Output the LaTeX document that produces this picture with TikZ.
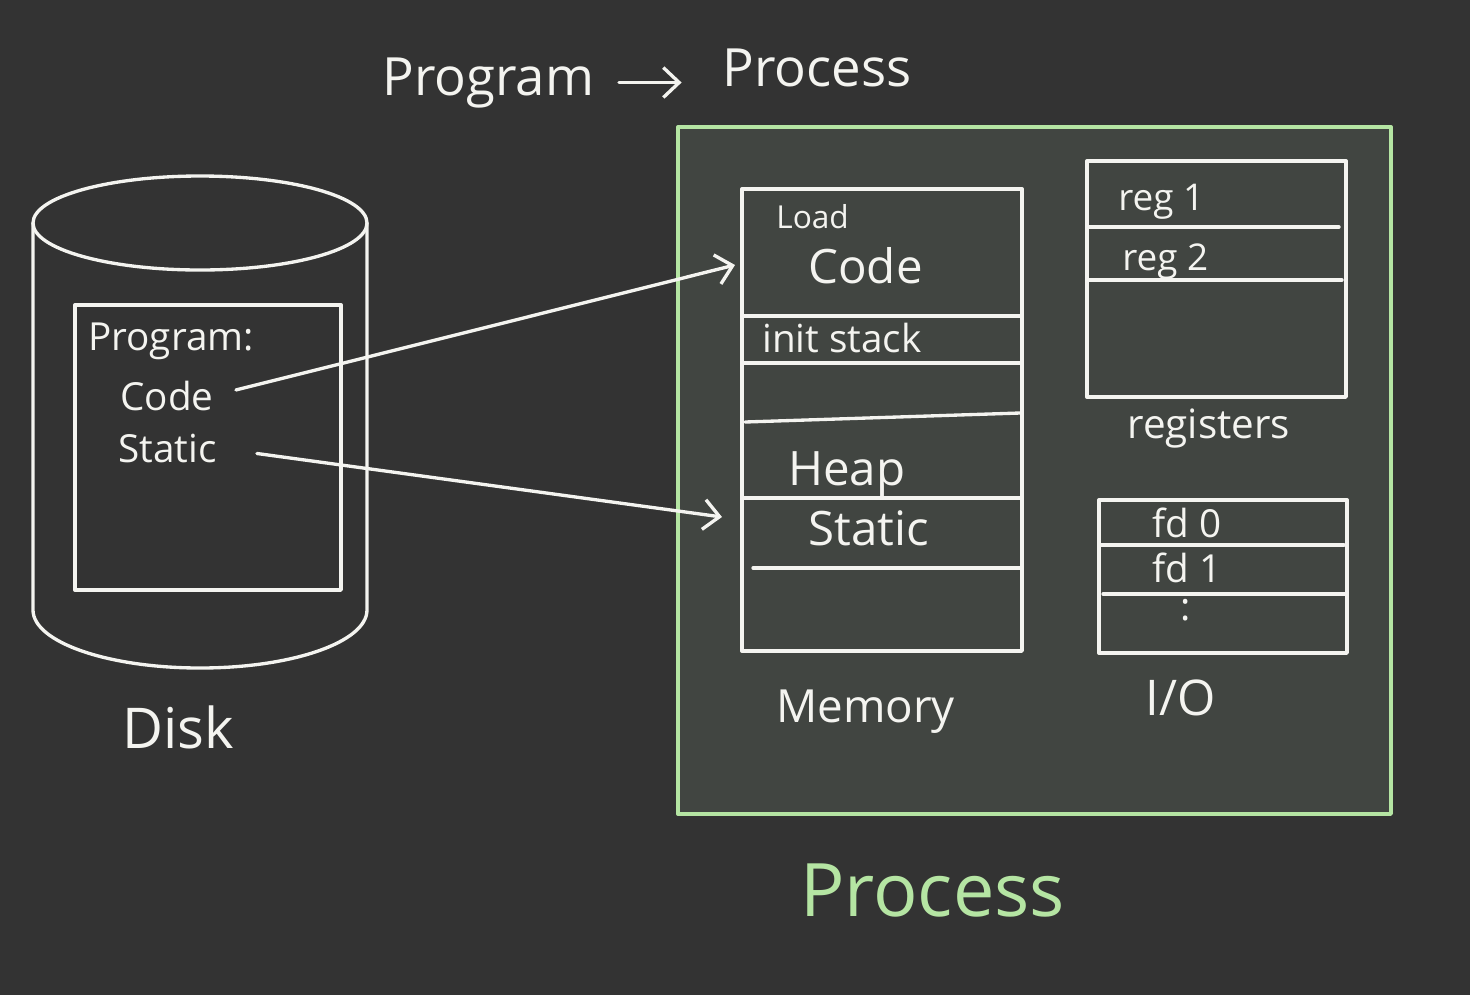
\documentclass[tikz,border=0pt]{standalone}
\usepackage{fontspec}
\setmainfont{Open Sans}
\usetikzlibrary{arrows.meta}
\definecolor{board}{HTML}{333333}
\definecolor{procfill}{HTML}{414541}
\definecolor{procline}{HTML}{B5E5A3}
\definecolor{chalk}{HTML}{F4F4F0}
\newcommand{\fsz}[1]{\fontsize{#1}{#1}\selectfont}
\tikzset{
  chalkline/.style={draw=chalk,line width=1.9pt},
  lbl/.style={text=chalk,inner sep=0pt,anchor=base west},
  barb/.style={-{Straight Barb[length=9pt,width=17pt,line width=1.9pt]}}
}
\begin{document}
\begin{tikzpicture}[x=0.02cm,y=-0.02cm,line cap=round,line join=round,
    every node/.style={font=\fsz{22}}]
    \fill[board] (0,0) rectangle (1470,995);
    \useasboundingbox (0,0) rectangle (1470,995);
    \node[lbl,font=\fsz{30}] (progt) at (382,95) {Program};
    \node[lbl,font=\fsz{30}] (proct) at (722,86) {Process};
    \draw[chalkline,barb,shorten <=14pt,shorten >=23pt] (progt.east) -- (progt.east -| proct.west);
    \draw[chalkline] (200,223) ellipse [x radius=167,y radius=47];
    \draw[chalkline] (33,223) -- (33,610) arc[start angle=180,end angle=0,x radius=167,y radius=58] -- (367,223);
    \draw[chalkline] (75,305) rectangle (341,590);
    \node[lbl] (dprog) at (88,350) {Program:};
    \node[lbl] (dcode) at (120,410) {Code};
    \node[lbl] (dstatic) at (118,462) {Static};
    \node[lbl,font=\fsz{32}] (disk) at (122,748) {Disk};
    \draw[draw=procline,fill=procfill,line width=1.9pt] (678,127) rectangle (1391,814);
    \draw[chalkline] (742,189) rectangle (1022,651);
    \draw[chalkline] (742,316) -- (1022,316);
    \draw[chalkline] (742,363) -- (1022,363);
    \draw[chalkline] (745,422) -- (1020,413);
    \draw[chalkline] (742,498) -- (1022,498);
    \draw[chalkline] (753,568) -- (1022,568);
    \node[lbl,font=\fsz{18}] (load) at (776,228) {Load};
    \node[lbl,font=\fsz{27}] (mcode) at (808,283) {Code};
    \node[lbl] (stack) at (762,352) {init stack};
    \node[lbl,font=\fsz{27}] (heap) at (788,485) {Heap};
    \node[lbl,font=\fsz{27}] (mstatic) at (808,545) {Static};
    \node[lbl,font=\fsz{26}] (memory) at (776,722) {Memory};
    \draw[chalkline] (1087,161) rectangle (1346,397);
    \draw[chalkline] (1089,227) -- (1339,227);
    \draw[chalkline] (1087,280) -- (1342,280);
    \node[lbl,font=\fsz{21}] (reg1) at (1118,210) {reg 1};
    \node[lbl,font=\fsz{21}] (reg2) at (1122,270) {reg 2};
    \node[lbl,font=\fsz{23}] (regs) at (1127,438) {registers};
    \draw[chalkline] (1099,500) rectangle (1347,653);
    \draw[chalkline] (1099,545) -- (1344,545);
    \draw[chalkline] (1103,594) -- (1346,594);
    \node[lbl] (fd0) at (1152,537) {fd 0};
    \node[lbl] (fd1) at (1152,582) {fd 1};
    \node[lbl] (dots) at (1180,620) {:};
    \node[lbl,font=\fsz{28}] (io) at (1145,715) {I/O};
    \node[lbl,text=procline,font=\fsz{42}] (proc) at (800,916) {Process};
    \coordinate (codein) at (735,265);
    \coordinate (staticin) at (722,517);
    \draw[chalkline,barb,shorten <=13pt] (dcode.east) -- (codein);
    \draw[chalkline,barb,shorten <=23pt] (dstatic.east) -- (staticin);
\end{tikzpicture}
\end{document}
